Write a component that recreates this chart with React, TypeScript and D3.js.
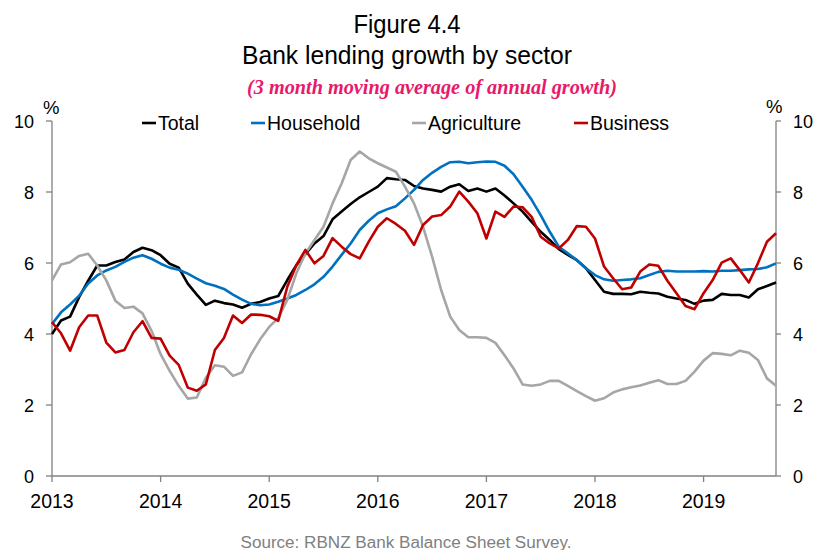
import React from "react";
import * as d3 from "d3";

const years = ["2013", "2014", "2015", "2016", "2017", "2018", "2019"];
const yTicks = [0, 2, 4, 6, 8, 10];

// monthly, Jan 2013 .. Sep 2019
const total = [
  4.0, 4.38, 4.49, 5.04, 5.5, 5.93, 5.93, 6.03, 6.1, 6.31, 6.43, 6.36,
  6.22, 5.98, 5.87, 5.42, 5.11, 4.82, 4.94, 4.87, 4.83, 4.74, 4.85, 4.9,
  5.0, 5.07, 5.52, 5.94, 6.25, 6.55, 6.76, 7.23, 7.45, 7.66, 7.85, 8.0,
  8.15, 8.39, 8.36, 8.34, 8.17, 8.1, 8.06, 8.01, 8.15, 8.22, 8.03, 8.1,
  8.01, 8.1, 7.9, 7.68, 7.45, 7.16, 6.88, 6.65, 6.39, 6.23, 6.08, 5.85,
  5.52, 5.19, 5.13, 5.13, 5.12, 5.19, 5.16, 5.14, 5.05, 5.0, 4.96, 4.85,
  4.94, 4.96, 5.13, 5.1, 5.1, 5.03, 5.26, 5.35, 5.45,
];
const household = [
  4.28, 4.61, 4.83, 5.08, 5.42, 5.65, 5.79, 5.89, 6.03, 6.15, 6.22, 6.12,
  5.98, 5.87, 5.81, 5.7, 5.56, 5.43, 5.36, 5.27, 5.11, 4.97, 4.85, 4.81,
  4.83, 4.91, 5.0, 5.1, 5.24, 5.4, 5.61, 5.9, 6.23, 6.55, 6.93, 7.19,
  7.4, 7.51, 7.6, 7.82, 8.06, 8.34, 8.54, 8.71, 8.84, 8.85, 8.81, 8.84,
  8.86, 8.85, 8.74, 8.5, 8.15, 7.78, 7.35, 6.88, 6.46, 6.27, 6.08, 5.85,
  5.66, 5.54, 5.5, 5.52, 5.54, 5.57, 5.66, 5.75, 5.78, 5.76, 5.76, 5.76,
  5.77, 5.76, 5.78, 5.78, 5.8, 5.82, 5.83, 5.88, 5.99,
];
const agriculture = [
  5.51, 5.96, 6.02, 6.2, 6.26, 5.93, 5.51, 4.94, 4.73, 4.77, 4.58, 4.09,
  3.43, 2.96, 2.54, 2.18, 2.21, 2.77, 3.12, 3.08, 2.82, 2.92, 3.43, 3.85,
  4.2, 4.45, 4.96, 5.71, 6.27, 6.65, 7.02, 7.68, 8.24, 8.9, 9.14, 8.95,
  8.81, 8.69, 8.57, 8.15, 7.68, 7.02, 6.18, 5.24, 4.49, 4.11, 3.91, 3.91,
  3.89, 3.75, 3.4, 3.03, 2.58, 2.54, 2.58, 2.68, 2.68, 2.54, 2.39, 2.25,
  2.12, 2.19, 2.35, 2.44, 2.5, 2.55, 2.63, 2.7, 2.59, 2.59, 2.68, 2.94,
  3.25, 3.46, 3.44, 3.4, 3.53, 3.47, 3.27, 2.75, 2.54,
];
const business = [
  4.33, 4.02, 3.53, 4.19, 4.52, 4.52, 3.76, 3.48, 3.55, 4.05, 4.36, 3.89,
  3.87, 3.39, 3.13, 2.49, 2.4, 2.58, 3.55, 3.89, 4.52, 4.31, 4.55, 4.54,
  4.5, 4.37, 5.33, 5.94, 6.37, 5.99, 6.2, 6.7, 6.46, 6.25, 6.13, 6.6,
  7.02, 7.26, 7.1, 6.91, 6.51, 7.07, 7.31, 7.35, 7.59, 8.01, 7.73, 7.4,
  6.69, 7.45, 7.3, 7.59, 7.57, 7.3, 6.74, 6.55, 6.41, 6.65, 7.04, 7.02,
  6.69, 5.9, 5.57, 5.26, 5.31, 5.76, 5.96, 5.92, 5.5, 5.15, 4.79, 4.7,
  5.15, 5.52, 6.01, 6.13, 5.8, 5.45, 5.99, 6.6, 6.84,
];

const seriesNames = ["Total", "Household", "Agriculture", "Business"];
const seriesColors = ["#000000", "#0070C0", "#A6A6A6", "#C00000"];
const seriesData = [total, household, agriculture, business];

const W = 816;
const H = 550;
const L = 52;
const R = 776;
const T = 121;
const B = 476;
const SANS = "'Liberation Sans', Arial, sans-serif";
const SERIF = "'Liberation Serif', 'DejaVu Serif', serif";

export default function App() {
  const x = d3.scaleLinear().domain([0, 80]).range([L, R]);
  const y = d3.scaleLinear().domain([0, 10]).range([B, T]);
  const line = d3
    .line<number>()
    .x((_, i) => x(i))
    .y((d) => y(d));
  const axisColor = "#808080";
  const legendLineX = [142, 251, 412, 574];

  return (
    <svg
      width={W}
      height={H}
      style={{ position: "absolute", left: 0, top: 0, background: "#fff" }}
    >
      <text
        x={407}
        y={33}
        textAnchor="middle"
        fontFamily={SANS}
        fontSize={26}
        textLength={107}
        lengthAdjust="spacingAndGlyphs"
      >
        Figure 4.4
      </text>
      <text
        x={407}
        y={64}
        textAnchor="middle"
        fontFamily={SANS}
        fontSize={26}
        textLength={330}
        lengthAdjust="spacingAndGlyphs"
      >
        Bank lending growth by sector
      </text>
      <text
        x={432}
        y={94}
        textAnchor="middle"
        fontFamily={SERIF}
        fontStyle="italic"
        fontWeight="bold"
        fontSize={20}
        textLength={370}
        lengthAdjust="spacingAndGlyphs"
        fill="#E8196A"
      >
        (3 month moving average of annual growth)
      </text>

      {/* axes */}
      <line x1={L} x2={L} y1={T} y2={B} stroke={axisColor} strokeWidth={1.3} />
      <line x1={R} x2={R} y1={T} y2={B} stroke={axisColor} strokeWidth={1.3} />
      <line x1={L} x2={R} y1={B} y2={B} stroke={axisColor} strokeWidth={1.3} />
      {yTicks.map((t) => (
        <g key={t}>
          <line x1={L - 6} x2={L} y1={y(t)} y2={y(t)} stroke={axisColor} strokeWidth={1.3} />
          <line x1={R} x2={R + 5} y1={y(t)} y2={y(t)} stroke={axisColor} strokeWidth={1.3} />
          <text x={34} y={y(t) + 6.5} textAnchor="end" fontFamily={SANS} fontSize={18}>
            {t}
          </text>
          <text x={793} y={y(t) + 6.5} textAnchor="start" fontFamily={SANS} fontSize={18}>
            {t}
          </text>
        </g>
      ))}
      <text x={43} y={114} fontFamily={SANS} fontSize={18.5}>%</text>
      <text x={766} y={113} fontFamily={SANS} fontSize={18.5}>%</text>
      {years.map((yr, i) => (
        <g key={yr}>
          <line
            x1={x(i * 12)}
            x2={x(i * 12)}
            y1={B}
            y2={B + 6}
            stroke={axisColor}
            strokeWidth={1.3}
          />
          <text x={x(i * 12)} y={508} textAnchor="middle" fontFamily={SANS} fontSize={19.5}>
            {yr}
          </text>
        </g>
      ))}

      {/* series */}
      {seriesData.map((d, i) => (
        <path
          key={seriesNames[i]}
          d={line(d) || ""}
          fill="none"
          stroke={seriesColors[i]}
          strokeWidth={2.6}
          strokeLinejoin="round"
        />
      ))}

      {/* legend */}
      {seriesNames.map((n, i) => {
        const lx = legendLineX[i];
        return (
          <g key={n}>
            <line x1={lx} x2={lx + 14} y1={123} y2={123} stroke={seriesColors[i]} strokeWidth={2.6} />
            <text x={lx + 16} y={130} fontFamily={SANS} fontSize={19.5}>
              {n}
            </text>
          </g>
        );
      })}

      <text
        x={406}
        y={548}
        textAnchor="middle"
        fontFamily={SANS}
        fontSize={16}
        textLength={331}
        lengthAdjust="spacingAndGlyphs"
        fill="#808080"
      >
        Source: RBNZ Bank Balance Sheet Survey.
      </text>
    </svg>
  );
}
